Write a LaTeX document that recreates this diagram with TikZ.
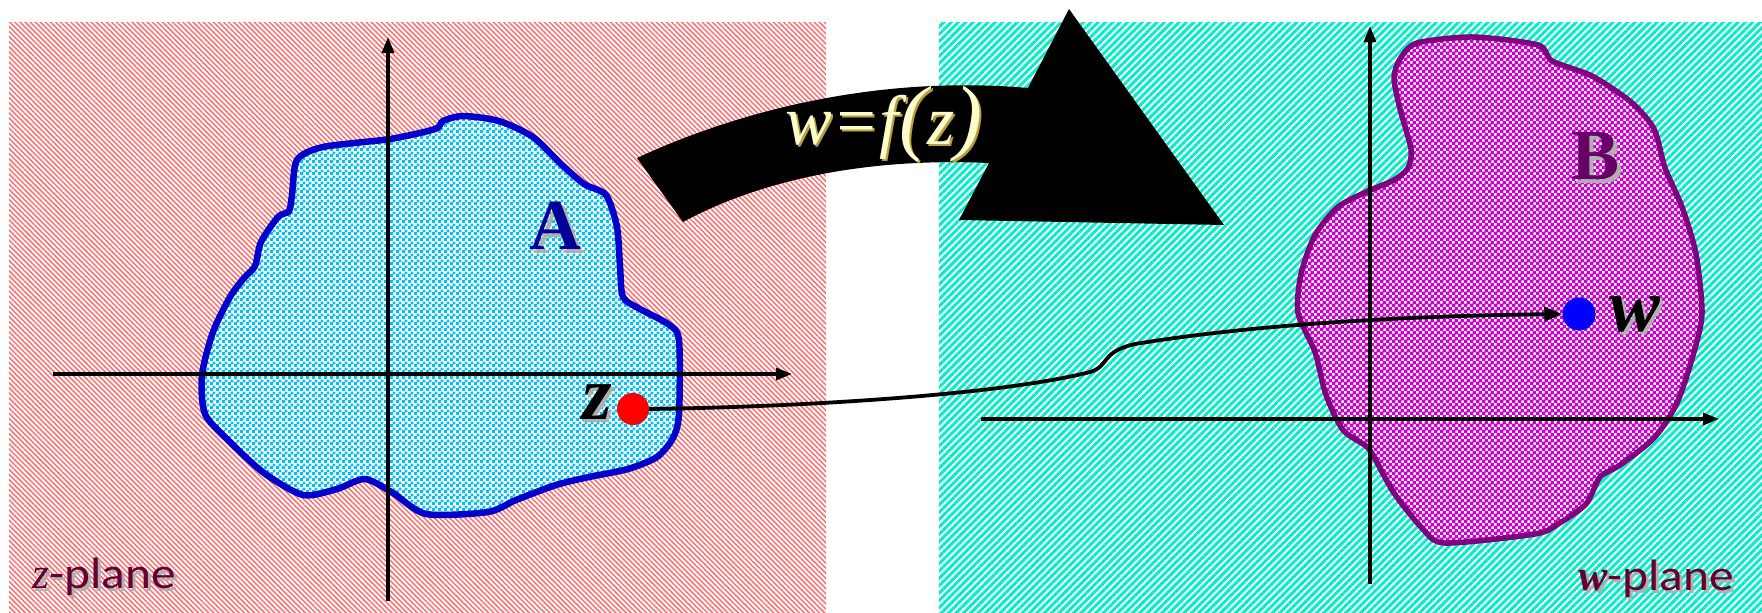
\documentclass[tikz,border=0pt]{standalone}
\usepackage{fontspec}
\setmainfont{Liberation Serif}
\newfontfamily\lab[FakeStretch=1.12]{Carlito}
\newfontfamily\mapfont{Liberation Serif}[UprightFont=* Italic]
\usetikzlibrary{patterns,patterns.meta,arrows.meta}
\pgfdeclarepatternformonly{checkerA}{\pgfpointorigin}{\pgfpoint{6pt}{6pt}}{\pgfpoint{6pt}{6pt}}{%
 \pgfpathrectangle{\pgfpointorigin}{\pgfpoint{3.3pt}{3.3pt}}%
 \pgfpathrectangle{\pgfpoint{3pt}{3pt}}{\pgfpoint{3.3pt}{3.3pt}}%
 \pgfusepath{fill}}
\pgfdeclarepatternformonly{checkerB}{\pgfpointorigin}{\pgfpoint{6pt}{6pt}}{\pgfpoint{6pt}{6pt}}{%
 \pgfpathrectangle{\pgfpointorigin}{\pgfpoint{3.8pt}{3.8pt}}%
 \pgfpathrectangle{\pgfpoint{3pt}{3pt}}{\pgfpoint{3.8pt}{3.8pt}}%
 \pgfusepath{fill}}
\definecolor{hatchred}{HTML}{FF6E6E}
\definecolor{hatchcyan}{HTML}{00EEC8}
\definecolor{blobblue}{HTML}{00C0F4}
\definecolor{edgeblue}{HTML}{0000CC}
\definecolor{blobmag}{HTML}{CC00CC}
\definecolor{edgemag}{HTML}{800080}
\definecolor{planecol}{HTML}{660033}
\definecolor{labA}{HTML}{000099}
\definecolor{labB}{HTML}{660066}
\definecolor{shgray}{HTML}{B0B0B0}
\definecolor{shyellow}{HTML}{B8A040}
\newcommand\shd[3]{\rlap{\smash{\hspace{#1}\raisebox{-#1}{\textcolor{#2}{#3}}}}#3}
\begin{document}
\begin{tikzpicture}[x=1pt,y=-1pt,
  axisline/.style={line width=3.4pt,-{Triangle[length=16pt,width=12pt]}},
  panelz/.style={pattern={Lines[angle=-45,distance=3.6pt,line width=1.5pt]},pattern color=hatchred},
  panelw/.style={pattern={Lines[angle=45,distance=5.2pt,line width=2.9pt]},pattern color=hatchcyan},
  blobA/.style={edgeblue,line width=6.5pt,preaction={fill=white},preaction={pattern=checkerA,pattern color=blobblue}},
  blobB/.style={edgemag,line width=5.5pt,preaction={fill=white},preaction={pattern=checkerB,pattern color=blobmag}},
  bigletter/.style={font=\fontsize{72}{72}\selectfont\bfseries},
  varletter/.style={font=\fontsize{76}{76}\selectfont\bfseries\itshape,text=black},
  planelabel/.style={text=planecol,inner sep=0pt},
  dot/.style={circle,inner sep=0pt,minimum size=32pt},
  mapline/.style={line width=3.8pt,-{Triangle[length=18pt,width=14pt]}}
]
\useasboundingbox (0,0) rectangle (1762,613);
% panels
\path[panelz] (9,22) rectangle (826,613);
\path[panelw] (939,22) rectangle (1762,613);
% regions
\draw[blobA] plot[smooth cycle,tension=0.45] coordinates {
 (463,116) (443,121) (435,129) (390,139) (323,147) (297,160) (292,195) (289,211)
 (278,217) (261,242) (255,266) (244,278) (230,297) (213,332) (202,375) (205,414)
 (230,442) (264,473) (303,495) (337,489) (365,479) (393,493) (426,514) (488,512)
 (516,500) (556,485) (589,477) (628,469) (657,457) (673,438) (679,414) (679,340)
 (668,324) (640,309) (623,297) (620,266) (617,227) (606,195) (584,184) (561,164)
 (533,137) (499,121)};
\draw[blobB] plot[smooth cycle,tension=0.45] coordinates {
 (1417,43) (1473,37) (1538,45) (1552,61) (1592,76) (1631,102) (1654,129) (1665,168)
 (1682,207) (1696,254) (1702,313) (1694,352) (1677,403) (1654,438) (1620,465)
 (1600,477) (1586,504) (1558,524) (1535,534) (1445,543) (1422,528) (1394,493)
 (1374,457) (1366,446) (1343,430) (1326,395) (1315,352) (1298,313) (1301,274)
 (1315,235) (1338,207) (1366,192) (1394,180) (1408,168) (1411,149) (1400,109)
 (1394,78) (1400,59)};
% axes
\coordinate (zyb) at (388,601); \coordinate (zyt) at (388,37);
\coordinate (zxl) at (53,374);  \coordinate (zxr) at (792,374);
\coordinate (wyb) at (1370,584); \coordinate (wyt) at (1370,26);
\coordinate (wxl) at (981,419); \coordinate (wxr) at (1719,419);
\draw[axisline] (zyb) -- (zyt);
\draw[axisline] (zxl) -- (zxr);
\draw[axisline] (wyb) -- (wyt);
\draw[axisline] (wxl) -- (wxr);
% labels
\node[bigletter,text=labA] (A) at (555,226) {\shd{4pt}{shgray}{A}};
\node[bigletter,text=labB] (B) at (1595,156) {\shd{4pt}{shgray}{B}};
\node[varletter] (zlab) at (597,402) {\shd{3pt}{shgray}{z}};
\node[varletter] (wlab) at (1635,314) {\shd{3pt}{shgray}{w}};
\node[planelabel,anchor=base west] (zplane) at (32,588)
  {\fontsize{44}{44}\selectfont\shd{3pt}{shgray}{{\mapfont z}\lab-plane}};
\node[planelabel,anchor=base east] (wplane) at (1734,590)
  {\fontsize{44}{44}\selectfont\shd{3pt}{shgray}{\textit{\textbf{w}}\lab-plane}};
% points
\node[dot,fill=red] (zdot) at (633,409) {};
\node[dot,fill=blue,minimum size=33pt] (wdot) at (1579,314) {};
\draw[mapline] (zdot.east) .. controls (800,407) and (1000,395) .. (1090,372)
  .. controls (1110,366) and (1100,352) .. (1135,344)
  .. controls (1250,325) and (1400,316) .. (wdot.west);
% big mapping arrow
\fill[black] (637,158) .. controls (740,110) and (880,75) .. (1028,88)
  -- (1069,9) -- (1224,225) -- (959,220) -- (989,163)
  .. controls (880,158) and (770,175) .. (683,222) -- cycle;
\node[text=white!80!yellow,font=\fontsize{70}{70}\selectfont\mapfont] (fmap) at (884,124)
  {\shd{2pt}{shyellow}{w=f{\fontsize{84}{84}\selectfont(}z{\fontsize{84}{84}\selectfont)}}};
\end{tikzpicture}
\end{document}
